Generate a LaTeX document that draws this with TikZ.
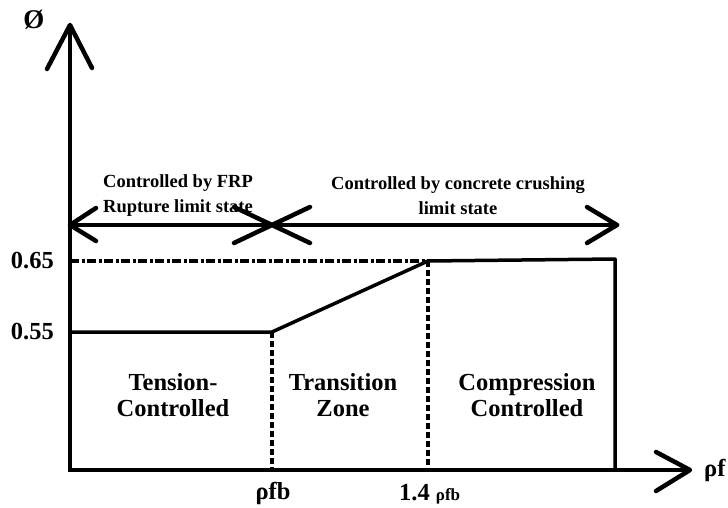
\documentclass[tikz,border=0pt]{standalone}
\usepackage{fontspec}
\setmainfont{Liberation Serif}
\usetikzlibrary{arrows.meta}
\begin{document}
\begin{tikzpicture}[x=1pt,y=-1pt,
  ax/.style={line width=3.5pt},
  thick line/.style={line width=3.5pt},
  dd/.style={line width=3.5pt, dash pattern=on 9pt off 2.5pt on 3pt off 2.5pt},
  vd/.style={line width=3.5pt, dash pattern=on 6pt off 3pt},
  lbl/.style={font=\bfseries\fontsize{24.5}{26}\selectfont, inner sep=0pt},
  zone/.style={font=\bfseries\fontsize{24.5}{26}\selectfont, align=center, inner sep=0pt},
  toptxt/.style={font=\bfseries\fontsize{18.5}{25}\selectfont, align=center, inner sep=0pt},
  barb/.style={line width=4.5pt, line cap=round, line join=round}]
\useasboundingbox (0,0) rectangle (728,508);
% coordinates
\coordinate (O) at (70,470);
\coordinate (Ytip) at (70,25);
\coordinate (Xtip) at (690,470);
\coordinate (A) at (70,332);
\coordinate (B) at (272,332);
\coordinate (C) at (428,261);
\coordinate (D) at (615,259);
\coordinate (Dbot) at (615,470);
\coordinate (Bbot) at (272,470);
\coordinate (Cbot) at (428,470);
\coordinate (Y65) at (70,261);
\coordinate (L) at (70,225);
\coordinate (M) at (272,225);
\coordinate (R) at (617,225);
% axes
\draw[ax] (O) -- (Ytip);
\draw[barb] (47,69) -- (Ytip) -- (92,68);
\draw[ax] (68,470) -- (Xtip);
\draw[barb] (656,452) -- (Xtip) -- (656,491);
% top double arrows
\draw[barb] (L) -- (R);
\draw[barb] (96,208) -- (L) -- (96,241);
\draw[barb] (234,207) -- (M) -- (234,243);
\draw[barb] (310,207) -- (M) -- (310,243);
\draw[barb] (587,207) -- (R) -- (587,243);
% curve
\draw[thick line, line join=round] (A) -- (B) -- (C) -- (D) -- (Dbot);
\draw[dd] (Y65) -- (C);
\draw[vd] (B) -- (Bbot);
\draw[vd] (C) -- (Cbot);
% labels
\node[font=\bfseries\fontsize{27}{28}\selectfont, inner sep=0pt] (phi) at (34,20) {Ø};
\node[lbl, anchor=west] (rhof) at (704,470) {ρf};
\node[lbl, anchor=east] (l65) at (54,261) {0.65};
\node[lbl, anchor=east] (l55) at (54,332) {0.55};
\node[lbl] (rfb) at (273,493) {ρfb};
\node[lbl, anchor=base west] (r14) at (399,500) {1.4 {\fontsize{17}{18}\selectfont ρfb}};
\node[zone] (z1) at (173,395) {Tension-\\Controlled};
\node[zone] (z2) at (343,395) {Transition\\Zone};
\node[zone] (z3) at (527,395) {Compression\\Controlled};
\node[toptxt] (t1) at (178,196) {Controlled by FRP\\Rupture limit state};
\node[toptxt] (t2) at (458,196) {Controlled by concrete crushing\\limit state};
\end{tikzpicture}
\end{document}
